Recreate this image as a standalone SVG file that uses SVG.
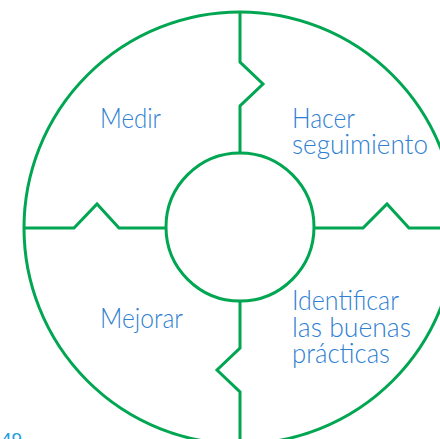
<svg xmlns="http://www.w3.org/2000/svg" width="440" height="439" viewBox="0 0 440 439">
<style>
.ln{fill:none;stroke:#00a651;stroke-width:3;stroke-linejoin:miter}
.t{font-family:Lato,"Liberation Sans",sans-serif;font-weight:300;font-size:28px;fill:#2f7fd2}
.pg{font-family:"Liberation Sans",sans-serif;font-size:18px;fill:#1aa0de}
</style>
<rect width="440" height="439" fill="#ffffff"/>
<g id="connectors">
<circle class="ln" cx="240" cy="228" r="216"/>
<path class="ln" d="M240,12 V62 L263,84 L240,106 V153"/>
<path class="ln" d="M24,228 H74 L97,204 L119,228 H166"/>
<path class="ln" d="M314,228 H363 L387,204 L409,228 H456"/>
<path class="ln" d="M240,301 V348 L217,370 L240,392 V444"/>
</g>
<g id="center"><circle class="ln" cx="240" cy="227" r="74"/></g>
<g id="medir"><text class="t" x="100" y="128" textLength="61" lengthAdjust="spacingAndGlyphs">Medir</text></g>
<g id="hacer">
<text class="t" x="292" y="128" textLength="63" lengthAdjust="spacingAndGlyphs">Hacer</text>
<text class="t" x="292" y="154" textLength="136" lengthAdjust="spacingAndGlyphs">seguimiento</text>
</g>
<g id="mejorar"><text class="t" x="100" y="328" textLength="83" lengthAdjust="spacingAndGlyphs">Mejorar</text></g>
<g id="identificar">
<text class="t" x="292" y="310" textLength="107" lengthAdjust="spacingAndGlyphs">Identificar</text>
<text class="t" x="292" y="337" textLength="119" lengthAdjust="spacingAndGlyphs">las buenas</text>
<text class="t" x="292" y="363" textLength="98" lengthAdjust="spacingAndGlyphs">prácticas</text>
</g>
<g id="page"><text class="pg" x="1" y="446" textLength="21" lengthAdjust="spacingAndGlyphs">49</text></g>
</svg>
